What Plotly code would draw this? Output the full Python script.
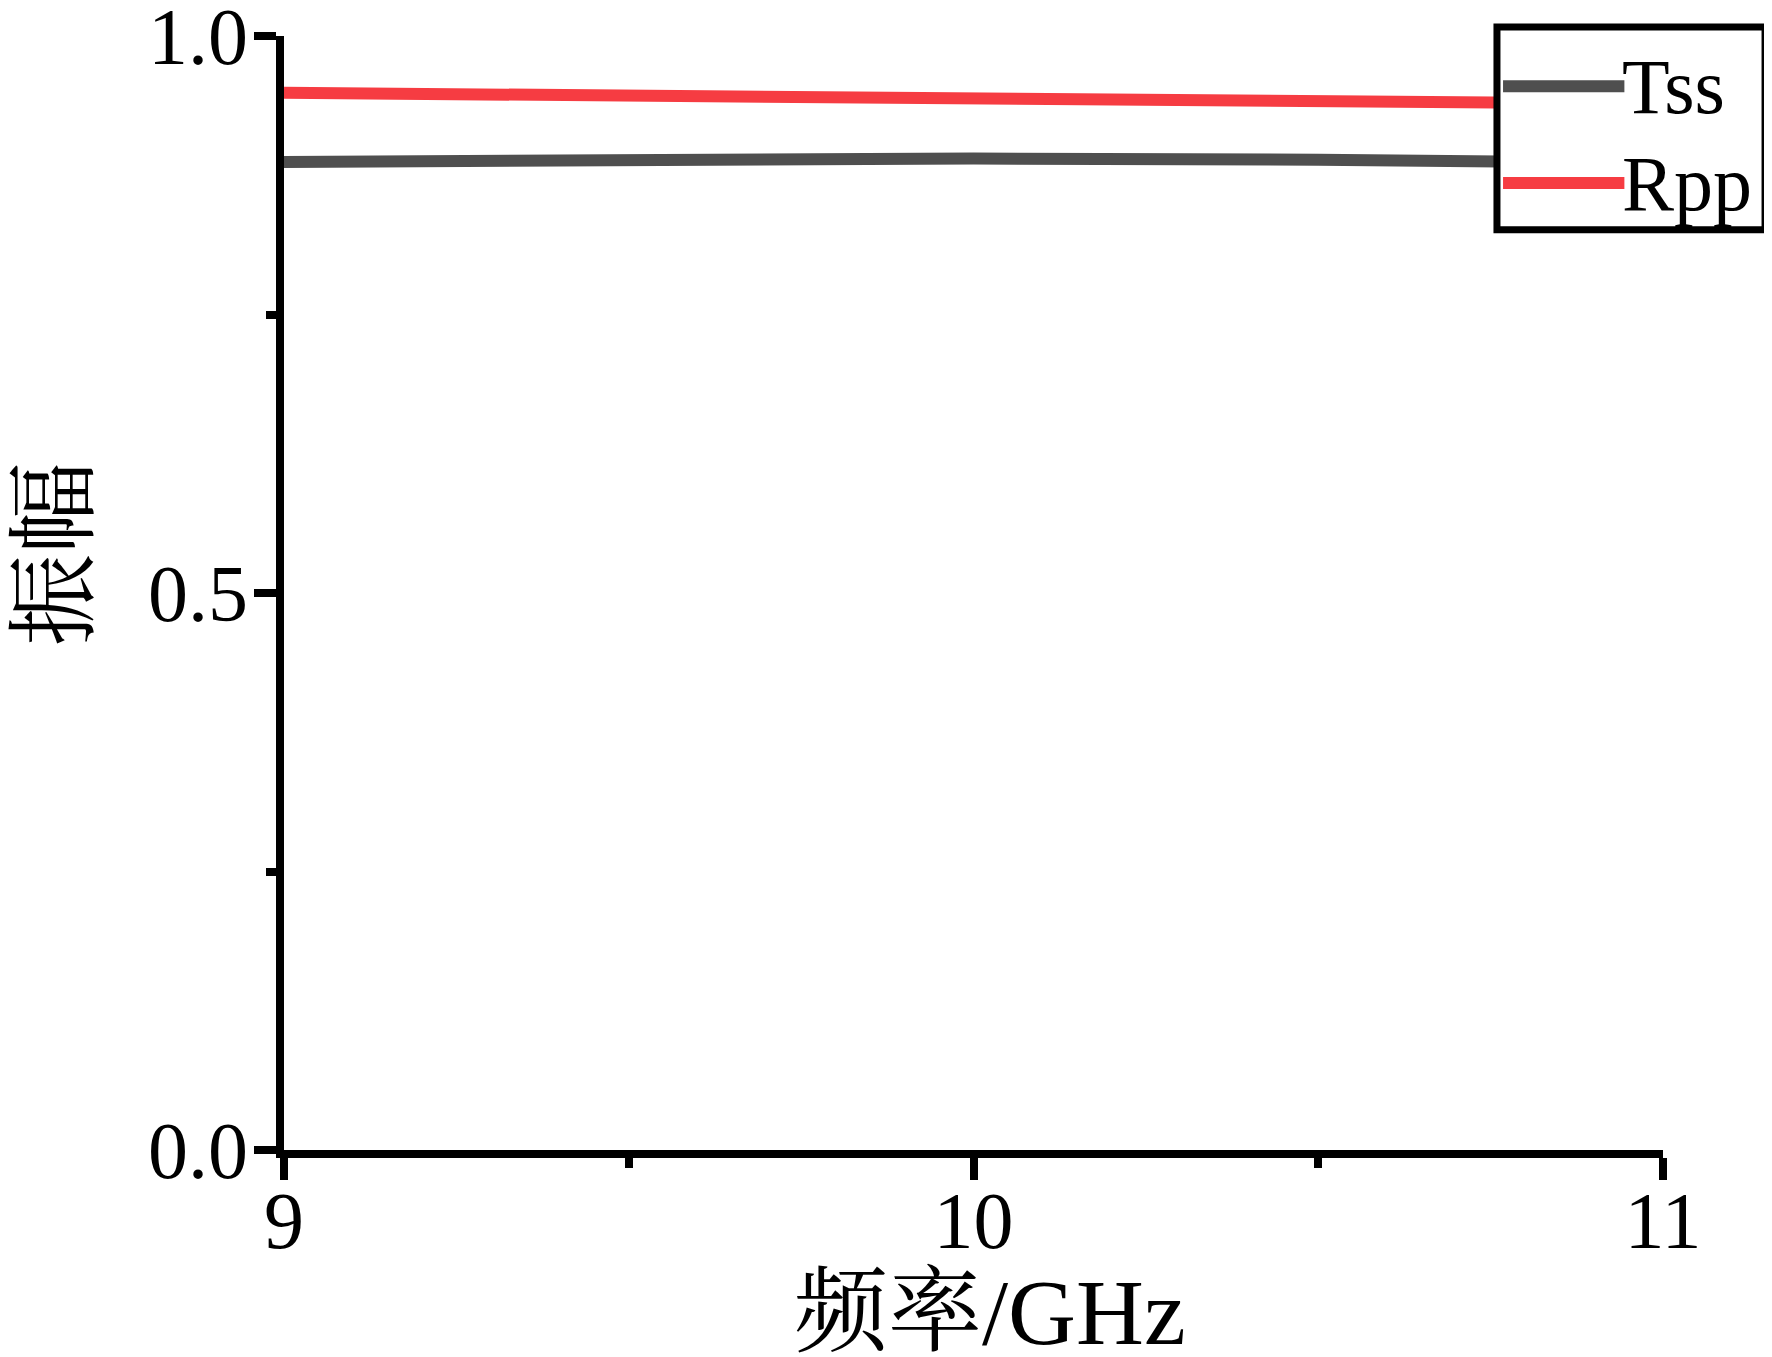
import plotly.graph_objects as go

# Frequency (GHz) and amplitudes
freq = [9, 9.5, 10, 10.5, 11]
tss = [0.887, 0.889, 0.890, 0.889, 0.886]
rpp = [0.949, 0.947, 0.945, 0.942, 0.939]

series_names = ["Tss", "Rpp"]
series_colors = ["#4f4f4f", "#f63c42"]
line_w = 12

serif = "Liberation Serif, Times New Roman, Noto Serif CJK SC, Noto Sans CJK SC"

fig = go.Figure()
for name, vals, color in zip(series_names, [tss, rpp], series_colors):
    fig.add_trace(go.Scatter(
        x=freq, y=vals, mode="lines", name=name,
        line=dict(color=color, width=line_w),
        showlegend=False,
    ))

axis_common = dict(
    showline=True, linecolor="black", linewidth=8,
    ticks="outside", ticklen=22, tickwidth=8, tickcolor="black",
    showgrid=False, zeroline=False, automargin=False,
    ticklabeloverflow="allow",
    tickfont=dict(family=serif, size=80, color="black"),
)

fig.update_xaxes(
    range=[9, 11], dtick=1, tick0=9,
    minor=dict(dtick=0.5, ticklen=10, tickwidth=8, ticks="outside", tickcolor="black"),
    ticklabelstandoff=-28,
    **axis_common,
)
fig.update_yaxes(
    range=[0, 1], dtick=0.5, tick0=0, tickformat=".1f",
    minor=dict(dtick=0.25, ticklen=10, tickwidth=8, ticks="outside", tickcolor="black"),
    ticklabelstandoff=-10,
    **axis_common,
)

# Axis titles
fig.add_annotation(xref="paper", yref="paper", x=0.512, y=-0.194,
                   text="频率/GHz", showarrow=False, xanchor="center", yanchor="bottom",
                   font=dict(family=serif, size=94, color="black"))
fig.add_annotation(xref="paper", yref="paper", x=-0.166, y=0.535,
                   text="振幅", showarrow=False, textangle=-90,
                   xanchor="center", yanchor="middle",
                   font=dict(family=serif, size=92, color="black"))

# Legend drawn as a boxed key on top of the plot
fig.add_shape(type="rect", xref="paper", yref="paper",
              x0=0.8796, x1=1.074, y0=0.826, y1=1.008,
              line=dict(color="black", width=7), fillcolor="white", layer="above")
legend_y = [0.955, 0.868]
for name, color, ly in zip(series_names, series_colors, legend_y):
    fig.add_shape(type="line", xref="paper", yref="paper",
                  x0=0.884, x1=0.972, y0=ly, y1=ly,
                  line=dict(color=color, width=line_w), layer="above")
    fig.add_annotation(xref="paper", yref="paper", x=0.972, y=ly, xshift=-4,
                       text=name, showarrow=False, xanchor="left", yanchor="middle",
                       font=dict(family=serif, size=78, color="black"))

fig.update_layout(
    width=1764, height=1349,
    margin=dict(l=276, r=109, t=28, b=207),
    plot_bgcolor="white", paper_bgcolor="white",
)

fig.write_html("out.html")
